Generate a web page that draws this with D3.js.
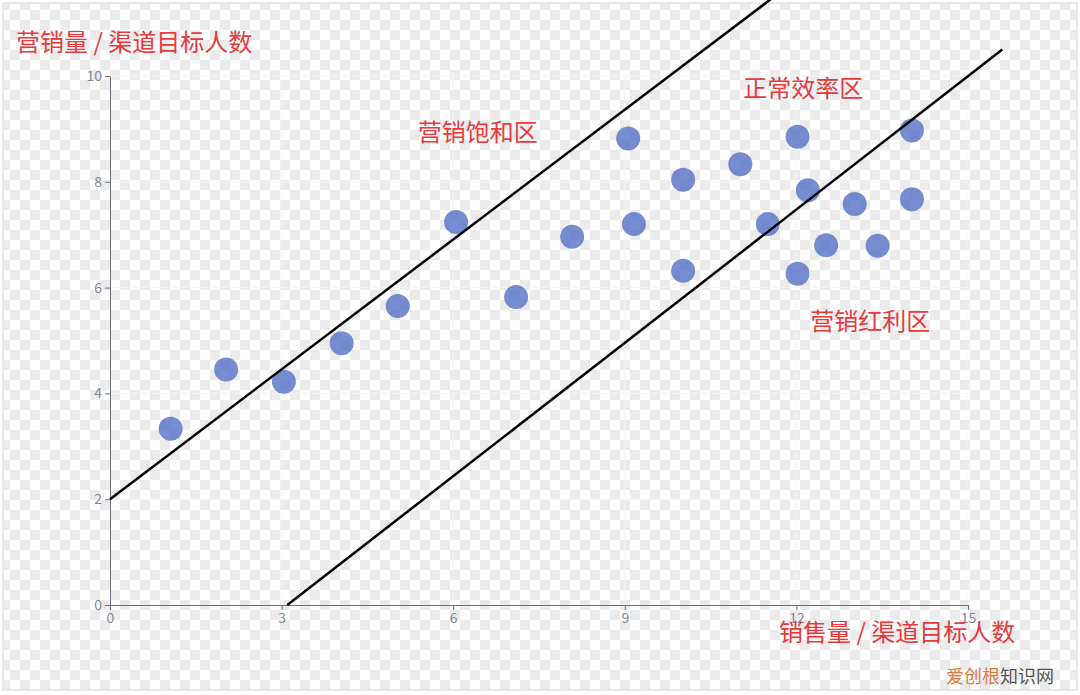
<!DOCTYPE html>
<html>
<head>
<meta charset="utf-8">
<script src="https://cdn.jsdelivr.net/npm/d3@7"></script>
<style>
    body { margin: 0; background: #fff; }
    text { font-family: "Noto Sans CJK SC", "Noto Sans", sans-serif; }
    .tick-label { fill: #85878f; font-size: 14px; }
    .zone-label, .axis-title { fill: #e8393d; font-size: 24px; }
</style>
</head>
<body>
<div id="chart"></div>
<script>
// scatter points (x = 销售量 / 渠道目标人数, y = 营销量 / 渠道目标人数)
var xValues = [1.06, 2.03, 3.04, 4.05, 5.03, 6.05, 7.1, 8.08, 9.06, 9.16, 10.02, 10.02, 11.02, 11.5, 12.02, 12.02, 12.2, 12.52, 13.02, 13.42, 14.02, 14.02];
var yValues = [3.33, 4.45, 4.22, 4.95, 5.65, 7.24, 5.82, 6.96, 8.82, 7.2, 8.04, 6.32, 8.33, 7.2, 8.85, 6.26, 7.84, 6.8, 7.58, 6.79, 8.97, 7.67];

var xTicks = [0, 3, 6, 9, 12, 15];
var yTicks = [0, 2, 4, 6, 8, 10];

// the two boundary lines, in data units (they run past the plot area)
var upperLine = [[0, 2], [11.55, 11.45]];
var lowerLine = [[3.1, 0], [15.6, 10.5]];

var zoneNames = ["营销饱和区", "正常效率区", "营销红利区"];
var zoneX = [6.43, 12.12, 13.29];
var zoneY = [8.78, 9.6, 5.2];

var xTitle = "销售量 / 渠道目标人数";
var yTitle = "营销量 / 渠道目标人数";

var W = 1080, H = 695;
var margin = { top: 76, right: 112, bottom: 90, left: 110 };
var width = W - margin.left - margin.right,
    height = H - margin.top - margin.bottom;

var root = d3.select("#chart").append("svg")
    .attr("width", W)
    .attr("height", H);

// transparent-style checkerboard backdrop
var defs = root.append("defs");
var pat = defs.append("pattern")
    .attr("id", "checker")
    .attr("width", 20).attr("height", 20)
    .attr("patternUnits", "userSpaceOnUse");
pat.append("rect").attr("width", 20).attr("height", 20).attr("fill", "#ffffff");
pat.append("rect").attr("width", 10).attr("height", 10).attr("fill", "#ebebeb");
pat.append("rect").attr("x", 10).attr("y", 10).attr("width", 10).attr("height", 10).attr("fill", "#ebebeb");

root.append("rect")
    .attr("x", 3).attr("y", 3)
    .attr("width", W - 6).attr("height", H - 8)
    .attr("fill", "url(#checker)")
    .attr("stroke", "#e8e8e8")
    .attr("stroke-width", 2);

var svg = root.append("g")
    .attr("transform", "translate(" + margin.left + "," + margin.top + ")");

var xScale = d3.scaleLinear().domain([0, 15]).range([0, width]);
var yScale = d3.scaleLinear().domain([0, 10]).range([height, 0]);

// grid
svg.selectAll(".vgrid")
    .data(xTicks.slice(1))
    .enter().append("line")
    .attr("class", "vgrid")
    .attr("x1", function(d) { return xScale(d); })
    .attr("x2", function(d) { return xScale(d); })
    .attr("y1", 0).attr("y2", height)
    .attr("stroke", "#f4f5f8");

svg.selectAll(".hgrid")
    .data(yTicks.slice(1))
    .enter().append("line")
    .attr("class", "hgrid")
    .attr("x1", 0).attr("x2", width)
    .attr("y1", function(d) { return yScale(d); })
    .attr("y2", function(d) { return yScale(d); })
    .attr("stroke", "#f4f5f8");

// axes
var xAxis = d3.axisBottom(xScale).tickValues(xTicks).tickSize(5).tickPadding(3).tickSizeOuter(0);
var yAxis = d3.axisLeft(yScale).tickValues(yTicks).tickSize(5).tickPadding(3).tickSizeOuter(0);

var gx = svg.append("g")
    .attr("class", "x-axis")
    .attr("transform", "translate(0," + height + ")")
    .call(xAxis);

var gy = svg.append("g")
    .attr("class", "y-axis")
    .call(yAxis);

[gx, gy].forEach(function(g) {
    g.select(".domain").attr("stroke", "#6e7079");
    g.selectAll(".tick line").attr("stroke", "#6e7079");
    g.selectAll(".tick text")
        .attr("class", "tick-label")
        .attr("fill", null)
        .style("font-size", "14px");
});

// points
svg.selectAll(".point")
    .data(xValues.map(function(d, i) { return [d, yValues[i]]; }))
    .enter().append("circle")
    .attr("class", "point")
    .attr("cx", function(d) { return xScale(d[0]); })
    .attr("cy", function(d) { return yScale(d[1]); })
    .attr("r", 12)
    .attr("fill", "#5470c6")
    .attr("fill-opacity", 0.8);

// boundary lines
var line = d3.line()
    .x(function(d) { return xScale(d[0]); })
    .y(function(d) { return yScale(d[1]); });

svg.selectAll(".bound")
    .data([upperLine, lowerLine])
    .enter().append("path")
    .attr("class", "bound")
    .attr("d", line)
    .attr("fill", "none")
    .attr("stroke", "#000")
    .attr("stroke-width", 2.5);

// zone labels
svg.selectAll(".zone-label")
    .data(zoneNames)
    .enter().append("text")
    .attr("class", "zone-label")
    .attr("text-anchor", "middle")
    .attr("x", function(d, i) { return xScale(zoneX[i]); })
    .attr("y", function(d, i) { return yScale(zoneY[i]); })
    .text(function(d) { return d; });

// axis titles
root.append("text")
    .attr("class", "axis-title")
    .attr("x", 16)
    .attr("y", 51)
    .text(yTitle);

root.append("text")
    .attr("class", "axis-title")
    .attr("x", 779)
    .attr("y", 641)
    .text(xTitle);

// watermark
var wm = root.append("text")
    .attr("x", 946)
    .attr("y", 683)
    .style("font-size", "18px");
wm.append("tspan").attr("fill", "#e07a3a").text("爱创根");
wm.append("tspan").attr("fill", "#555").text("知识网");
</script>
</body>
</html>
